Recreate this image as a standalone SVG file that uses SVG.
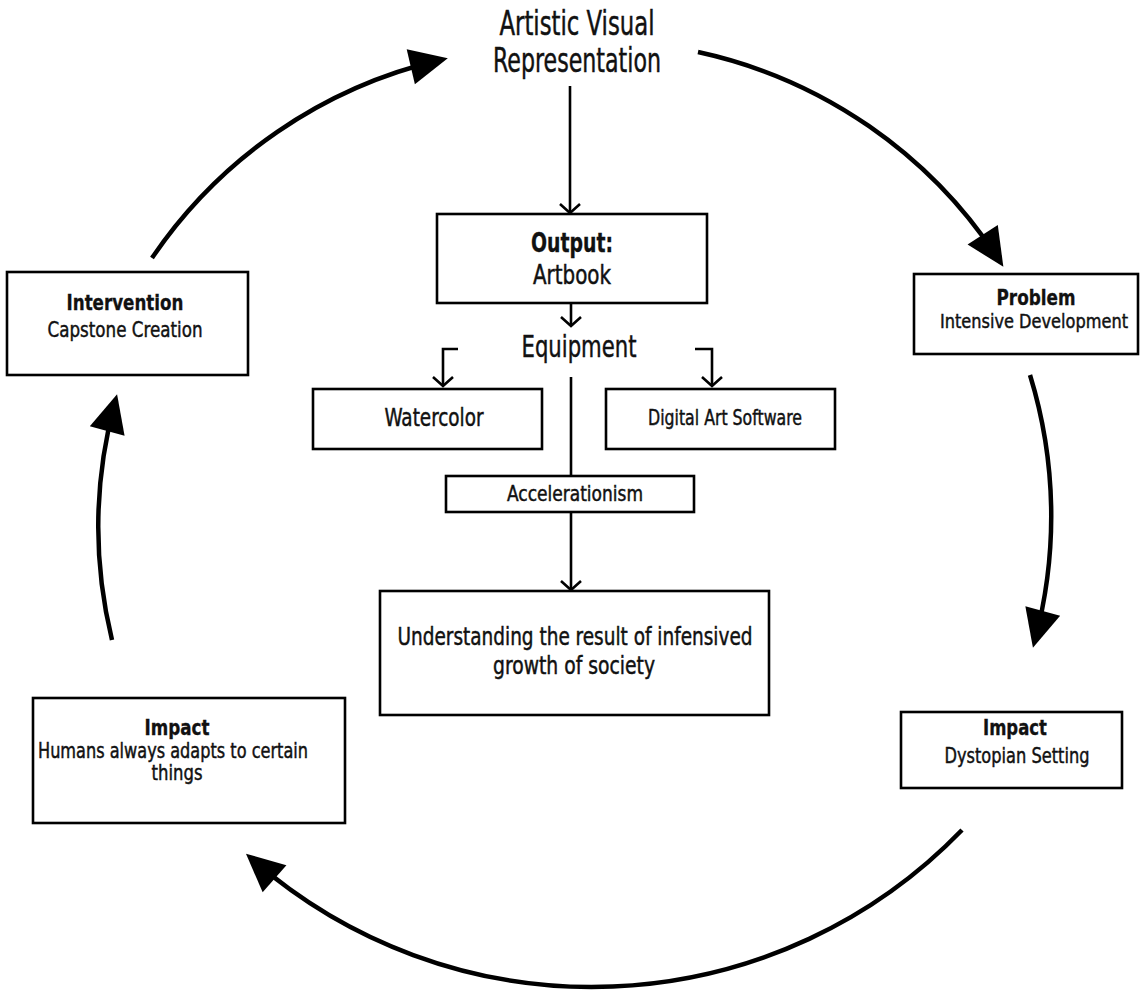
<svg xmlns="http://www.w3.org/2000/svg" width="1140" height="994" viewBox="0 0 1140 994">
<style>
.box{fill:#fff;stroke:#000;stroke-width:2.6}
.t{font-family:"DejaVu Sans Condensed","DejaVu Sans","Liberation Sans",sans-serif;font-stretch:condensed;fill:#111;stroke:#111;stroke-width:0.45;text-anchor:middle}
.b{font-weight:bold;stroke-width:0.3}
.arc{fill:none;stroke:#000;stroke-width:4.5;marker-end:url(#big)}
.ln{fill:none;stroke:#000;stroke-width:2.6}
.la{fill:none;stroke:#000;stroke-width:2.6;marker-end:url(#open)}
</style>
<defs>
<marker id="big" markerUnits="userSpaceOnUse" markerWidth="44" markerHeight="40" refX="30" refY="18" orient="auto" overflow="visible">
<path d="M0,0 L38,18 L0,36 z" fill="#000"/>
</marker>
<marker id="open" markerUnits="userSpaceOnUse" markerWidth="16" markerHeight="24" refX="10" refY="10" orient="auto" overflow="visible">
<path d="M1,0 L10,10 L1,20" fill="none" stroke="#000" stroke-width="2.6"/>
</marker>
</defs>
<g id="connectors">
<path class="arc" d="M152,258 A480,480 0 0 1 440,60"/>
<path class="arc" d="M698,52 A480,480 0 0 1 999,260"/>
<path class="arc" d="M1030,375 A480,480 0 0 1 1035,640"/>
<path class="arc" d="M962,830 A515,515 0 0 1 252,859"/>
<path class="arc" d="M112,640 A480,480 0 0 1 115,402"/>
<path class="la" d="M570,86 L570,213"/>
<path class="la" d="M571,303 L571,326"/>
<path class="la" d="M458,349 L443,349 L443,386"/>
<path class="la" d="M695,349 L712,349 L712,386"/>
<path class="ln" d="M571,377 L571,476"/>
<path class="la" d="M571,512 L571,590"/>
</g>
<g id="title">
<text class="t" x="577" y="35" font-size="33" textLength="155" lengthAdjust="spacingAndGlyphs">Artistic Visual</text>
<text class="t" x="577" y="72" font-size="33" textLength="168" lengthAdjust="spacingAndGlyphs">Representation</text>
</g>
<g id="output">
<rect class="box" x="437" y="214" width="270" height="89"/>
<text class="t b" x="572" y="252" font-size="26" textLength="82" lengthAdjust="spacingAndGlyphs">Output:</text>
<text class="t" x="572" y="284" font-size="26" textLength="78" lengthAdjust="spacingAndGlyphs">Artbook</text>
</g>
<g id="equipment">
<text class="t" x="579" y="357" font-size="30" textLength="115" lengthAdjust="spacingAndGlyphs">Equipment</text>
</g>
<g id="watercolor">
<rect class="box" x="313" y="389" width="229" height="60"/>
<text class="t" x="434" y="426" font-size="24" textLength="99" lengthAdjust="spacingAndGlyphs">Watercolor</text>
</g>
<g id="digital">
<rect class="box" x="606" y="389" width="229" height="60"/>
<text class="t" x="725" y="425" font-size="21" textLength="154" lengthAdjust="spacingAndGlyphs">Digital Art Software</text>
</g>
<g id="accelerationism">
<rect class="box" x="446" y="476" width="248" height="36"/>
<text class="t" x="575" y="501" font-size="21" textLength="136" lengthAdjust="spacingAndGlyphs">Accelerationism</text>
</g>
<g id="understanding">
<rect class="box" x="380" y="591" width="389" height="124"/>
<text class="t" x="575" y="645" font-size="24" textLength="355" lengthAdjust="spacingAndGlyphs">Understanding the result of infensived</text>
<text class="t" x="574" y="674" font-size="24" textLength="162" lengthAdjust="spacingAndGlyphs">growth of society</text>
</g>
<g id="intervention">
<rect class="box" x="7" y="272" width="241" height="103"/>
<text class="t b" x="125" y="310" font-size="22" textLength="117" lengthAdjust="spacingAndGlyphs">Intervention</text>
<text class="t" x="125" y="337" font-size="22" textLength="155" lengthAdjust="spacingAndGlyphs">Capstone Creation</text>
</g>
<g id="problem">
<rect class="box" x="914" y="274" width="224" height="80"/>
<text class="t b" x="1036" y="305" font-size="21" textLength="79" lengthAdjust="spacingAndGlyphs">Problem</text>
<text class="t" x="1034" y="328" font-size="20" textLength="188" lengthAdjust="spacingAndGlyphs">Intensive Development</text>
</g>
<g id="impact-left">
<rect class="box" x="33" y="698" width="312" height="125"/>
<text class="t b" x="177" y="735" font-size="21" textLength="65" lengthAdjust="spacingAndGlyphs">Impact</text>
<text class="t" x="173" y="758" font-size="21" textLength="270" lengthAdjust="spacingAndGlyphs">Humans always adapts to certain</text>
<text class="t" x="177" y="780" font-size="21" textLength="51" lengthAdjust="spacingAndGlyphs">things</text>
</g>
<g id="impact-right">
<rect class="box" x="901" y="712" width="221" height="76"/>
<text class="t b" x="1015" y="735" font-size="22" textLength="64" lengthAdjust="spacingAndGlyphs">Impact</text>
<text class="t" x="1017" y="763" font-size="22" textLength="145" lengthAdjust="spacingAndGlyphs">Dystopian Setting</text>
</g>
</svg>
